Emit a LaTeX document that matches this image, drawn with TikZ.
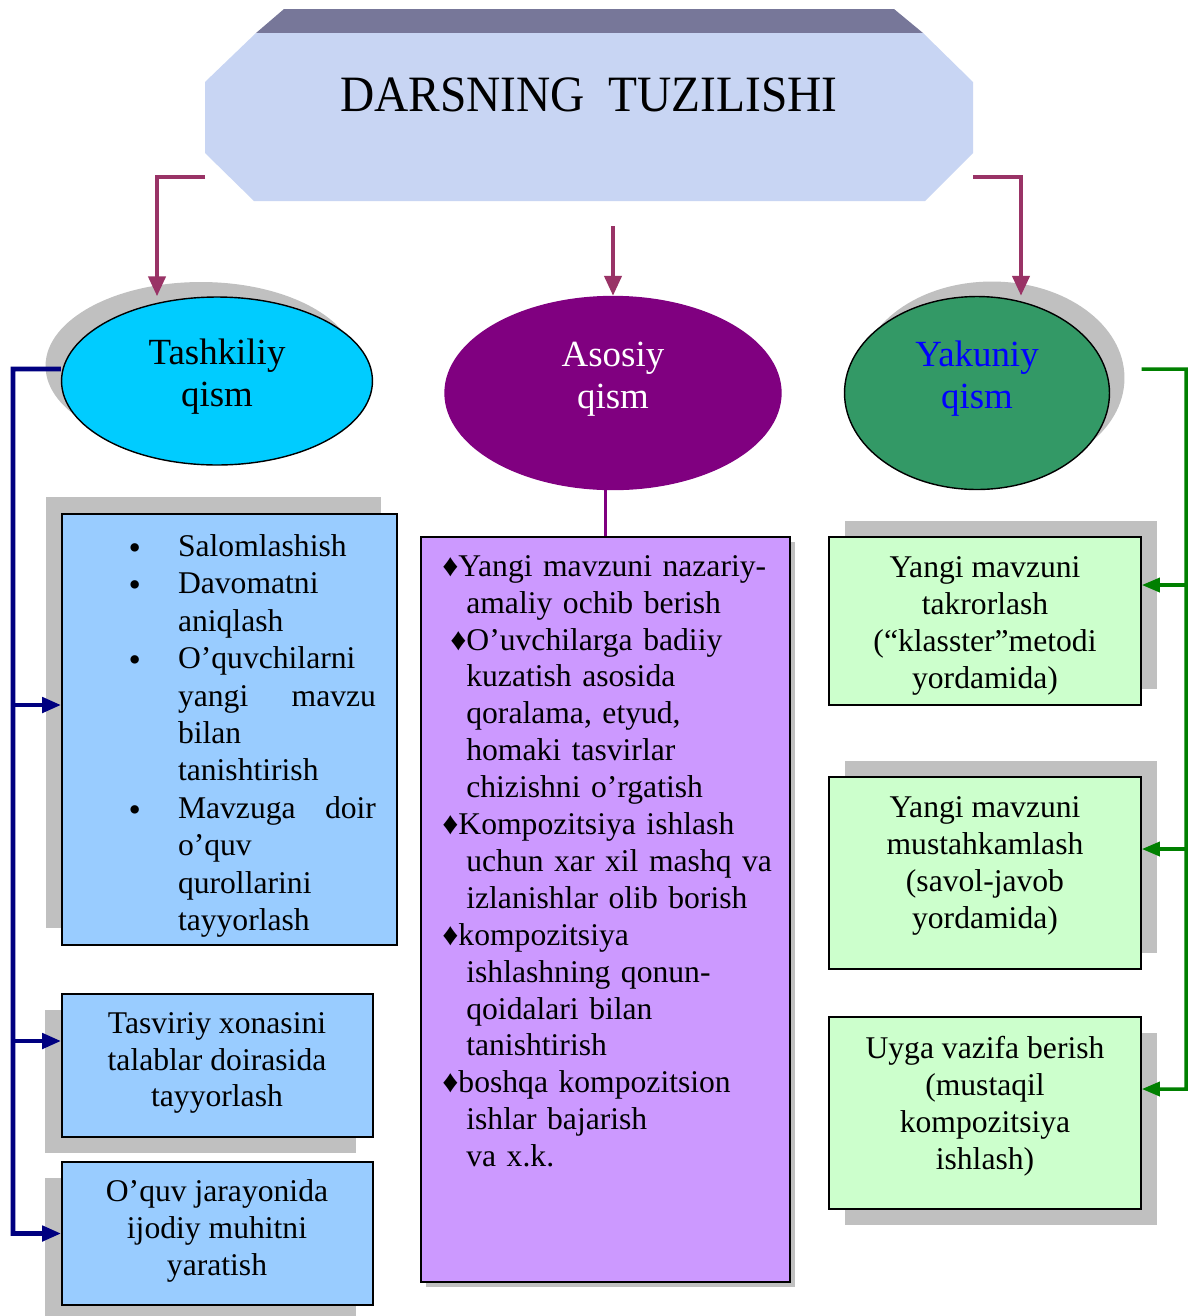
\documentclass[tikz,border=0pt]{standalone}
\usepackage{fontspec}
\setmainfont{Liberation Serif}
\usetikzlibrary{arrows.meta,positioning,shapes.geometric,shadows}

\definecolor{arrplum}{HTML}{993366}
\definecolor{navyb}{HTML}{000080}
\definecolor{grn}{HTML}{008000}
\definecolor{cyanq}{HTML}{00CCFF}
\definecolor{purp}{HTML}{800080}
\definecolor{seag}{HTML}{339966}
\definecolor{blueq}{HTML}{0000FF}
\definecolor{lblue}{HTML}{99CCFF}
\definecolor{lilac}{HTML}{CC99FF}
\definecolor{lgreen}{HTML}{CCFFCC}
\definecolor{shgray}{HTML}{C0C0C0}
\definecolor{band}{HTML}{777799}
\definecolor{paper}{HTML}{C8D5F3}

\newcommand\lbul{\leavevmode\llap{\raisebox{-0.06cm}{\fontsize{20}{20}\selectfont\textbullet}\hspace{0.74cm}}}

\tikzset{shd/.style 2 args={general shadow={fill=shgray,shadow xshift=#1,shadow yshift=#2}}}

\begin{document}
\begin{tikzpicture}[x=0.02cm,y=-0.02cm,
    qism/.style={ellipse,inner sep=0pt,line width=0.8pt},
    box/.style={rectangle,draw=black,line width=1pt,inner sep=0pt},
    body/.style={inner sep=0pt,font=\fontsize{18}{21}\selectfont},
    qtext/.style={inner sep=0pt,align=center,font=\fontsize{21}{24}\selectfont},
    plumarrow/.style={draw=arrplum,line width=2.4pt,-{Triangle[length=0.4cm,width=0.34cm]}},
    navyarrow/.style={draw=navyb,line width=2.6pt,-{Triangle[length=0.38cm,width=0.3cm]}},
    grnarrow/.style={draw=grn,line width=2pt,-{Triangle[length=0.36cm,width=0.28cm]}}]
    \fill[white] (0,0) rectangle (1189,1316);
    \useasboundingbox (0,0) rectangle (1189,1316);

    % heading
    \fill[band] (284,9) -- (894,9) -- (923,33) -- (256,33) -- cycle;
    \fill[paper] (256,33) -- (923,33) -- (973,82) -- (973,153) -- (925,201)
        -- (254,201) -- (205,153) -- (205,82) -- cycle;
    \node[inner sep=0pt,font=\fontsize{29}{32}\selectfont] (title) at (589,95)
        {\scalebox{0.93}[1]{DARSNING\hspace{0.5em}TUZILISHI}};
    \coordinate (hl) at (205,177);
    \coordinate (hm) at (613,226);
    \coordinate (hr) at (973,177);

    % three parts
    \node[qism,fill=cyanq,draw=black,minimum width=6.22cm,minimum height=3.36cm,shd={-0.32cm}{0.3cm}] (tash) at (217,381) {};
    \node[qism,fill=purp,draw=purp,minimum width=6.72cm,minimum height=3.86cm] (asos) at (613,393) {};
    \node[qism,fill=seag,draw=black,minimum width=5.3cm,minimum height=3.86cm,shd={0.3cm}{0.3cm}] (yak) at (977,393) {};
    \node[qtext] (tashT) at ([yshift=0.08cm]tash.center) {Tashkiliy\\qism};
    \node[qtext,text=white] (asosT) at ([yshift=0.28cm]asos.center) {Asosiy\\qism};
    \node[qtext,text=blueq] (yakT) at ([yshift=0.28cm]yak.center) {Yakuniy\\qism};

    \draw[plumarrow] (hl) -| ([xshift=-1.2cm]tash.north);
    \draw[plumarrow] (hm) -- (asos.north);
    \draw[plumarrow] (hr) -| ([xshift=0.88cm]yak.north);

    % left column
    \node[box,fill=lblue,minimum width=6.7cm,minimum height=8.62cm,shd={-0.32cm}{0.34cm}] (b1) at (229.5,729.5) {};
    \node[box,fill=lblue,minimum width=6.22cm,minimum height=2.86cm,shd={-0.34cm}{-0.32cm}] (b2) at (217.5,1065.5) {};
    \node[box,fill=lblue,minimum width=6.22cm,minimum height=2.86cm,shd={-0.34cm}{-0.32cm}] (b3) at (217.5,1233.5) {};
    \node[body,align=left,text width=3.96cm,font=\fontsize{18}{21.3}\selectfont] (b1T) at (277,736) {%
        \lbul Salomlashish\\
        \lbul Davomatni\\
        aniqlash\\
        \lbul O’quvchilarni\\
        \makebox[3.96cm][l]{yangi\hfill mavzu}\\
        bilan\\
        tanishtirish\\
        \lbul \makebox[3.96cm][l]{Mavzuga\hfill doir}\\
        o’quv\\
        qurollarini\\
        tayyorlash};
    \node[body,align=center] (b2T) at (217,1063) {Tasviriy xonasini\\talablar doirasida\\tayyorlash};
    \node[body,align=center] (b3T) at (217,1231) {O’quv jarayonida\\ijodiy muhitni\\yaratish};

    \coordinate (lbar) at (13,369);
    \coordinate (b1in) at ([yshift=0.49cm]b1.west);
    \coordinate (b2in) at ([yshift=0.49cm]b2.west);
    \draw[navyarrow] ([yshift=0.24cm]tash.west) -- (lbar) |- (b3.west);
    \draw[navyarrow] (lbar |- b1in) -- (b1in);
    \draw[navyarrow] (lbar |- b2in) -- (b2in);

    % middle column
    \node[box,fill=lilac,minimum width=7.38cm,minimum height=14.9cm,shd={0.1cm}{-0.1cm}] (mid) at (605.5,909.5) {};
    \draw[draw=purp,line width=1.7pt] (mid.north |- asos.south) -- (mid.north);
    \node[body,align=left,anchor=north west,text width=6.9cm] (midT) at (442,555) {%
        ♦Yangi mavzuni nazariy-\\
        \hspace*{0.48cm}amaliy ochib berish\\
        \hspace*{0.16cm}♦O’uvchilarga badiiy\\
        \hspace*{0.48cm}kuzatish asosida\\
        \hspace*{0.48cm}qoralama, etyud,\\
        \hspace*{0.48cm}homaki tasvirlar\\
        \hspace*{0.48cm}chizishni o’rgatish\\
        ♦Kompozitsiya ishlash\\
        \hspace*{0.48cm}uchun xar xil mashq va\\
        \hspace*{0.48cm}izlanishlar olib borish\\
        ♦kompozitsiya\\
        \hspace*{0.48cm}ishlashning qonun-\\
        \hspace*{0.48cm}qoidalari bilan\\
        \hspace*{0.48cm}tanishtirish\\
        ♦boshqa kompozitsion\\
        \hspace*{0.48cm}ishlar bajarish\\
        \hspace*{0.48cm}va x.k.};

    % right column
    \node[box,fill=lgreen,minimum width=6.24cm,minimum height=3.36cm,shd={0.32cm}{0.32cm}] (r1) at (985,621) {};
    \node[box,fill=lgreen,minimum width=6.24cm,minimum height=3.84cm,shd={0.32cm}{0.32cm}] (r2) at (985,873) {};
    \node[box,fill=lgreen,minimum width=6.24cm,minimum height=3.84cm,shd={0.32cm}{-0.32cm}] (r3) at (985,1113) {};
    \node[body,align=center] (r1T) at (985,626) {Yangi mavzuni\\takrorlash\\(“klasster”metodi\\yordamida)};
    \node[body,align=center] (r2T) at (985,866) {Yangi mavzuni\\mustahkamlash\\(savol-javob\\yordamida)};
    \node[body,align=center] (r3T) at (985,1106) {Uyga vazifa berish\\(mustaqil\\kompozitsiya\\ishlash)};

    \coordinate (gout) at ([xshift=0.63cm,yshift=0.48cm]yak.east);
    \coordinate (rbar) at (1186,369);
    \coordinate (r1in) at ([yshift=0.72cm]r1.east);
    \coordinate (r2in) at ([yshift=0.48cm]r2.east);
    \coordinate (r3in) at ([yshift=0.48cm]r3.east);
    \draw[grnarrow] (gout) -- (rbar) |- (r3in);
    \draw[grnarrow] (rbar |- r1in) -- (r1in);
    \draw[grnarrow] (rbar |- r2in) -- (r2in);
\end{tikzpicture}
\end{document}
